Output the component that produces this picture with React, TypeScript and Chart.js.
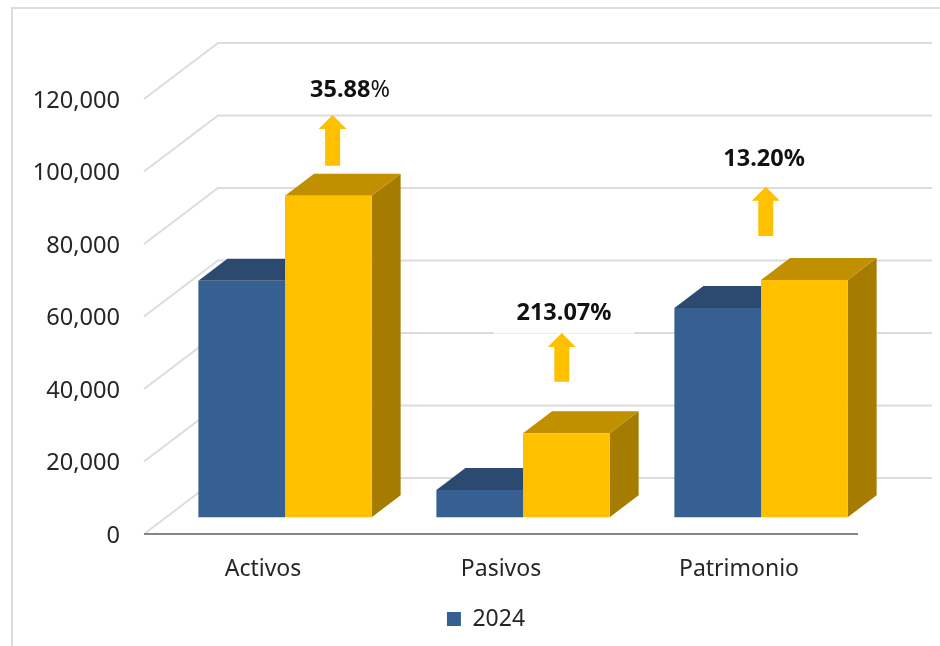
import { useEffect, useRef } from "react";
import { Chart, registerables, Plugin } from "chart.js";

Chart.register(...registerables);

const categories = ["Activos", "Pasivos", "Patrimonio"];
const seriesLabels = ["2024", "2025"];
const values2024 = [65270, 7530, 57740];
const values2025 = [88720, 23170, 65460];
const tickValues = [0, 20000, 40000, 60000, 80000, 100000, 120000];

const changeLabels = ["35.88", "213.07", "13.20"];
const changeSignBold = [false, true, true];
const changeLabelX = [0.273, 1.172, 2.013];
const changeLabelY = [117850, 56370, 98850];
const changeLabelMasked = [false, true, false];
const arrowX = [0.2, 1.163, 2.02];
const arrowTip = [110979, 50841, 91200];
const arrowBottom = [96993, 37407, 77600];

const BLUE = "#376092";
const BLUE_TOP = "#2c4a70";
const GOLD = "#ffc000";
const GOLD_TOP = "#c09000";
const GOLD_SIDE = "#a67c00";
const GRID = "#dcdcdc";
const FONT = '"Noto Sans", sans-serif';

const poly = (ctx: CanvasRenderingContext2D, pts: number[][], fill: string) => {
  ctx.fillStyle = fill;
  ctx.beginPath();
  pts.forEach(([x, y], i) => (i ? ctx.lineTo(x, y) : ctx.moveTo(x, y)));
  ctx.closePath();
  ctx.fill();
};

const framePlugin: Plugin = {
  id: "frameAndWalls",
  beforeDatasetsDraw(chart) {
    const { ctx, chartArea } = chart;
    const y = chart.scales.y;
    ctx.save();
    // outer frame
    ctx.strokeStyle = "#dddddd";
    ctx.lineWidth = 2;
    ctx.beginPath();
    ctx.moveTo(12, 646);
    ctx.lineTo(12, 8);
    ctx.lineTo(940, 8);
    ctx.stroke();
    // wall grid
    ctx.strokeStyle = GRID;
    ctx.lineWidth = 2;
    tickValues.forEach((v) => {
      const py = y.getPixelForValue(v);
      ctx.beginPath();
      ctx.moveTo(chartArea.left, py);
      ctx.lineTo(chartArea.left + 74, py - 56);
      ctx.lineTo(932, py - 56);
      ctx.stroke();
    });
    // front axis line
    ctx.strokeStyle = "#868686";
    ctx.beginPath();
    ctx.moveTo(chartArea.left, chartArea.bottom);
    ctx.lineTo(chartArea.right, chartArea.bottom);
    ctx.stroke();
    // depth faces of the bars
    const dx = 29;
    const dy = 22;
    [
      { top: BLUE_TOP, side: BLUE_TOP },
      { top: GOLD_TOP, side: GOLD_SIDE },
    ].forEach((c, di) => {
      chart.getDatasetMeta(di).data.forEach((el: any) => {
        const l = el.x - el.width / 2;
        const r = el.x + el.width / 2;
        poly(ctx, [[r, el.y], [r + dx, el.y - dy], [r + dx, el.base - dy], [r, el.base]], c.side);
        poly(ctx, [[l, el.y], [l + dx, el.y - dy], [r + dx, el.y - dy], [r, el.y]], c.top);
      });
    });
    ctx.restore();
  },
  afterDatasetsDraw(chart) {
    const { ctx } = chart;
    const x = chart.scales.x2;
    const y = chart.scales.y2;
    ctx.save();
    ctx.textBaseline = "middle";
    ctx.textAlign = "left";
    changeLabels.forEach((t, i) => {
      const px = x.getPixelForValue(changeLabelX[i]);
      const py = y.getPixelForValue(changeLabelY[i]);
      if (changeLabelMasked[i]) {
        ctx.fillStyle = "#ffffff";
        ctx.fillRect(px - 70, py - 14, 140, 34.5);
      }
      ctx.font = `bold 23.5px ${FONT}`;
      const w1 = ctx.measureText(t).width;
      ctx.font = `${changeSignBold[i] ? "bold " : ""}23.5px ${FONT}`;
      const w2 = ctx.measureText("%").width;
      const sx = px - (w1 + w2) / 2;
      ctx.fillStyle = "#111111";
      ctx.font = `bold 23.5px ${FONT}`;
      ctx.fillText(t, sx, py);
      ctx.font = `${changeSignBold[i] ? "bold " : ""}23.5px ${FONT}`;
      ctx.fillText("%", sx + w1, py);
    });
    arrowX.forEach((v, i) => {
      const cx = x.getPixelForValue(v);
      const tip = y.getPixelForValue(arrowTip[i]);
      const bot = y.getPixelForValue(arrowBottom[i]);
      poly(
        ctx,
        [
          [cx, tip],
          [cx + 14, tip + 14],
          [cx + 7.5, tip + 14],
          [cx + 7.5, bot],
          [cx - 7.5, bot],
          [cx - 7.5, tip + 14],
          [cx - 14, tip + 14],
        ],
        GOLD
      );
    });
    ctx.restore();
  },
};

export default function App() {
  const ref = useRef<HTMLCanvasElement>(null);
  useEffect(() => {
    document.body.style.margin = "0";
    document.body.style.background = "#ffffff";
    const chart = new Chart(ref.current!, {
      type: "bar",
      data: {
        labels: categories,
        datasets: [
          {
            label: seriesLabels[0],
            data: values2024.map((v, i) => ({ x: i, y: v })),
            backgroundColor: BLUE,
            xAxisID: "x2",
            yAxisID: "y2",
            categoryPercentage: 0.728,
            barPercentage: 1,
          },
          {
            label: seriesLabels[1],
            data: values2025.map((v, i) => ({ x: i, y: v })),
            backgroundColor: GOLD,
            xAxisID: "x2",
            yAxisID: "y2",
            categoryPercentage: 0.728,
            barPercentage: 1,
          },
        ] as any,
      },
      options: {
        responsive: false,
        animation: false,
        layout: { padding: { top: 99, left: 32, right: 0, bottom: 5.5 } },
        plugins: {
          tooltip: { enabled: false },
          legend: {
            position: "bottom",
            labels: {
              boxWidth: 14,
              boxHeight: 14,
              padding: 10,
              color: "#262626",
              font: { family: FONT, size: 23 },
              filter: (item) => item.text === seriesLabels[0],
            },
          },
        },
        scales: {
          x: {
            type: "category",
            offset: true,
            grid: { display: false, drawTicks: false },
            border: { display: false },
            ticks: { color: "#262626", padding: 22, font: { family: FONT, size: 23 }, maxRotation: 0 },
            afterFit: (s: any) => {
              s.height = 63.5;
            },
          },
          x2: {
            type: "linear",
            display: false,
            offset: false,
            min: -0.5925,
            max: 2.4075,
            afterBuildTicks: (s: any) => {
              s.ticks = categories.map((_, value) => ({ value }));
            },
          },
          y: {
            position: "left",
            min: 0,
            max: 120000,
            grid: { display: false, drawTicks: false },
            border: { display: false },
            afterBuildTicks: (s: any) => {
              s.ticks = tickValues.map((value) => ({ value }));
            },
            ticks: {
              color: "#262626",
              padding: 24,
              labelOffset: 2,
              font: { family: FONT, size: 23.6 },
              callback: (v: any) => Number(v).toLocaleString("en-US"),
            },
            afterFit: (s: any) => {
              s.width = 112;
            },
          },
          y2: {
            position: "right",
            min: -4607,
            max: 115393,
            grid: { display: false },
            border: { display: false },
            ticks: { display: false },
            afterFit: (s: any) => {
              s.width = 82;
            },
          },
        },
      },
      plugins: [framePlugin],
    });
    return () => chart.destroy();
  }, []);
  return <canvas ref={ref} width={940} height={646} style={{ display: "block", width: 940, height: 646 }} />;
}
